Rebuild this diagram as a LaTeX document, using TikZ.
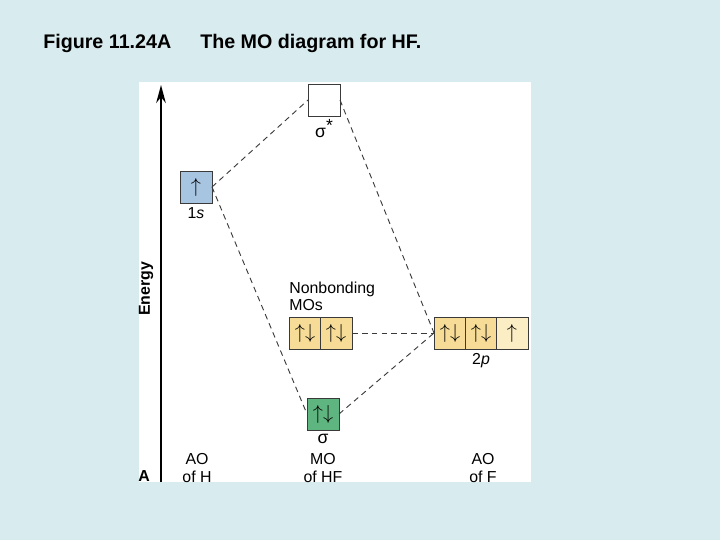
\documentclass[tikz,border=0pt]{standalone}
\usepackage{fontspec}
\setmainfont{Liberation Sans}
\usepackage{xcolor}
\usetikzlibrary{arrows.meta,positioning}
\definecolor{Slide}{HTML}{D8EBEE}
\definecolor{HBlue}{HTML}{A7C4E0}
\definecolor{Gold}{HTML}{F6DC96}
\definecolor{PaleGold}{HTML}{FCEEC4}
\definecolor{Green}{HTML}{5FB57F}
\definecolor{Edge}{HTML}{3A3A3A}

\begin{document}
\begin{tikzpicture}[
  x=0.025cm, y=-0.025cm,
  orb/.style={
    draw=Edge,
    line width=0.7pt,
    minimum size=0.8cm,
    inner sep=0pt,
    outer sep=0pt,
    font=\fontsize{15}{16}\selectfont
  },
  lbl/.style={
    font=\fontsize{11.3}{12.5}\selectfont,
    align=center,
    inner sep=1pt
  },
  greek/.style={
    font=\fontsize{12.5}{14}\selectfont,
    inner sep=1pt
  },
  bold/.style={
    font=\fontsize{11.3}{12.5}\selectfont\bfseries,
    inner sep=0pt
  },
  title/.style={
    font=\fontsize{14}{16}\selectfont\bfseries,
    anchor=west,
    inner sep=0pt
  },
  level/.style={dash pattern=on 4pt off 3pt,line width=0.65pt,draw=Edge},
  axis/.style={-{Stealth[length=4.5mm,width=2.4mm]},line width=1.4pt}
]
  \useasboundingbox[fill=Slide] (0,0) rectangle (720,540);
  \fill[white] (139,82) rectangle (531,482);

  \node[title] (fig) at (43,43) {Figure 11.24A};
  \node[title] (cap) at (200,43) {The MO diagram for HF.};

  % energy axis
  \coordinate (axisbot) at (161,482);
  \coordinate (axistop) at (161,85);
  \draw[axis] (axisbot) -- (axistop);
  \node[bold, rotate=90] (energy) at (146,289) {Energy};
  \node[bold] (panel) at (144,476) {A};

  % orbitals
  \node[orb, fill=white] (sigstar) at (324,100) {};
  \node[orb, fill=HBlue] (hs) at (196,187) {$\uparrow$};
  \node[orb, fill=Gold] (nb1) at (305,333) {$\uparrow\downarrow$};
  \node[orb, fill=Gold, right=-0.7pt of nb1] (nb2) {$\uparrow\downarrow$};
  \node[orb, fill=Gold] (fp1) at (450,333) {$\uparrow\downarrow$};
  \node[orb, fill=Gold, right=-0.7pt of fp1] (fp2) {$\uparrow\downarrow$};
  \node[orb, fill=PaleGold, right=-0.7pt of fp2] (fp3) {$\uparrow$};
  \node[orb, fill=Green] (sig) at (323,414) {$\uparrow\downarrow$};

  \node[greek, below=1pt of sigstar] (sigstarlbl) {σ\raisebox{0.35em}{*}};
  \node[lbl, below=2pt of hs] (hslbl) {1\textit{s}};
  \node[lbl, below=2pt of fp2] (fplbl) {2\textit{p}};
  \node[greek, below=2pt of sig] (siglbl) {σ};
  \node[lbl, align=left, anchor=south west, inner xsep=0pt] (nblbl)
    at ([yshift=3pt]nb1.north west) {Nonbonding\\MOs};

  \node[lbl] (aoh) at (197,468) {AO\\of H};
  \node[lbl] (mohf) at (323,468) {MO\\of HF};
  \node[lbl] (aof) at (483,468) {AO\\of F};

  \draw[level] (hs.east) -- (sigstar.west);
  \draw[level] (hs.east) -- (sig.west);
  \draw[level] (sigstar.east) -- (fp1.west);
  \draw[level] (sig.east) -- (fp1.west);
  \draw[level] (nb2.east) -- (fp1.west);
\end{tikzpicture}
\end{document}
